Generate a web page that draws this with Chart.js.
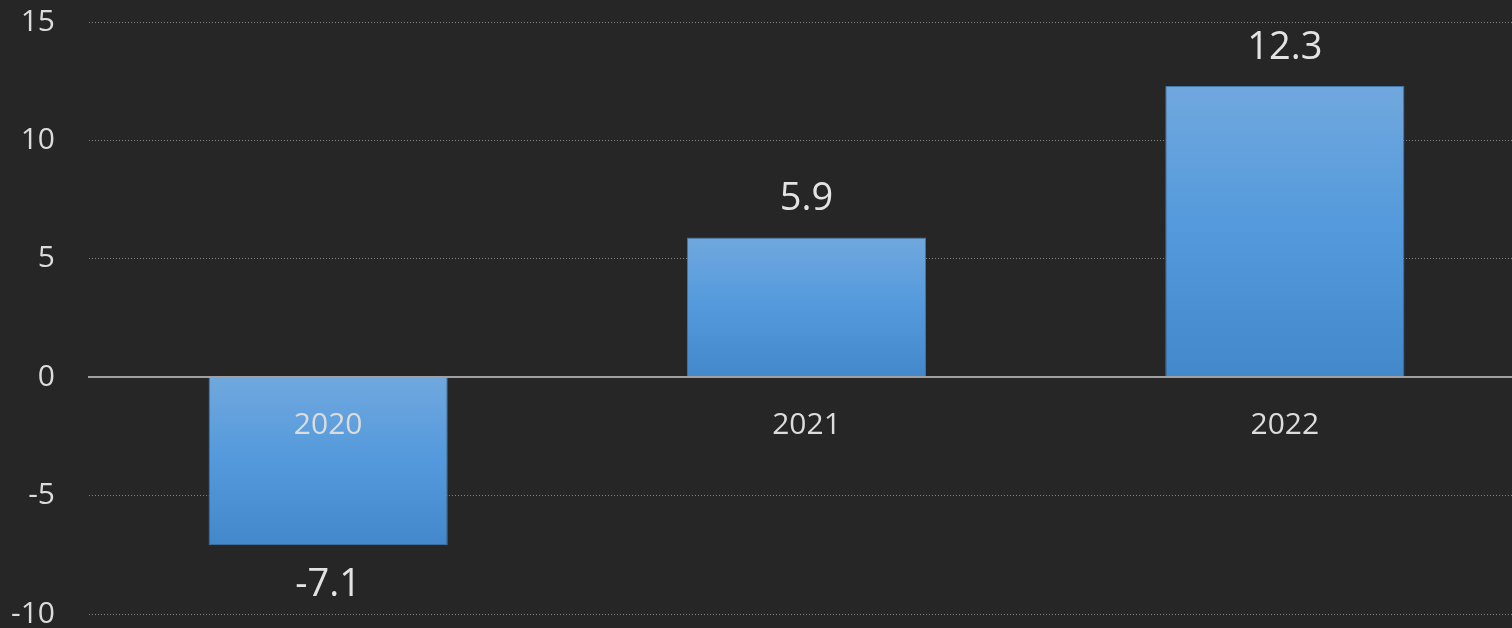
<!DOCTYPE html>
<html>
<head>
<meta charset="utf-8">
<script src="https://cdn.jsdelivr.net/npm/chart.js@4"></script>
<style>
  html, body { margin: 0; padding: 0; background: #262626; overflow: hidden; }
  #wrap { width: 1524px; height: 628px; }
</style>
</head>
<body>
<div id="wrap"><canvas id="growth"></canvas></div>
<script>
const years = ['2020', '2021', '2022'];
const growth = [-7.1, 5.9, 12.3];
const yTicks = [-10, -5, 0, 5, 10, 15];

const FONT = '"Open Sans", "Noto Sans", sans-serif';

// value above (or below, for negatives) each bar
const valueLabels = {
  id: 'valueLabels',
  afterDatasetsDraw(chart) {
    const ctx = chart.ctx;
    const meta = chart.getDatasetMeta(0);
    ctx.save();
    ctx.font = '38px ' + FONT;
    ctx.fillStyle = '#e3e3e3';
    ctx.textAlign = 'center';
    ctx.textBaseline = 'alphabetic';
    meta.data.forEach((bar, i) => {
      const v = growth[i];
      const y = v >= 0 ? bar.y - 27 : bar.y + 51;
      ctx.fillText(v.toFixed(1), bar.x, y);
    });
    ctx.restore();
  }
};

function barGradient(context) {
  const chart = context.chart;
  const y = chart.scales.y;
  if (!y || context.raw === undefined) return '#5599d8';
  const top = y.getPixelForValue(Math.max(context.raw, 0));
  const bottom = y.getPixelForValue(Math.min(context.raw, 0));
  if (!isFinite(top) || !isFinite(bottom) || top === bottom) return '#5599d8';
  const g = chart.ctx.createLinearGradient(0, top, 0, bottom);
  g.addColorStop(0, '#70a8de');
  g.addColorStop(0.5, '#5399dc');
  g.addColorStop(1, '#4288cb');
  return g;
}

// keep label overflow from eating into the plot area
function noPadding(axis) {
  axis.paddingTop = 0;
  axis.paddingBottom = 0;
  axis.paddingLeft = 0;
  axis.paddingRight = 0;
}

const growthChart = new Chart(
  document.getElementById('growth'),
  {
    type: 'bar',
    data: {
      labels: years,
      datasets: [
        {
          label: 'Growth',
          data: growth,
          backgroundColor: barGradient,
          borderColor: '#3f77ab',
          borderWidth: 1,
          borderSkipped: 'start',
          categoryPercentage: 1,
          barPercentage: 0.5
        }
      ]
    },
    options: {
      responsive: true,
      maintainAspectRatio: false,
      animation: false,
      layout: {
        padding: { top: 22, bottom: 14, left: 0, right: 0 }
      },
      plugins: {
        legend: { display: false },
        tooltip: { enabled: false }
      },
      scales: {
        x: {
          position: { y: 0 },
          afterFit: noPadding,
          grid: { display: false, drawTicks: false },
          border: { display: true, color: '#a0a0a0', width: 2, z: 1 },
          ticks: {
            color: '#dcdcdc',
            padding: 30,
            z: 1,
            autoSkip: false,
            maxRotation: 0,
            minRotation: 0,
            font: { family: FONT, size: 30 }
          }
        },
        y: {
          min: -10,
          max: 15,
          afterBuildTicks: axis => {
            axis.ticks = yTicks.map(v => ({ value: v }));
          },
          afterFit: axis => {
            axis.width = 89;
            noPadding(axis);
          },
          grid: {
            color: '#828282',
            lineWidth: 1,
            drawTicks: false
          },
          border: { display: false, dash: [1, 2] },
          ticks: {
            color: '#dcdcdc',
            padding: 34,
            font: { family: FONT, size: 30, lineHeight: 1 }
          }
        }
      }
    },
    plugins: [valueLabels]
  }
);
</script>
</body>
</html>
